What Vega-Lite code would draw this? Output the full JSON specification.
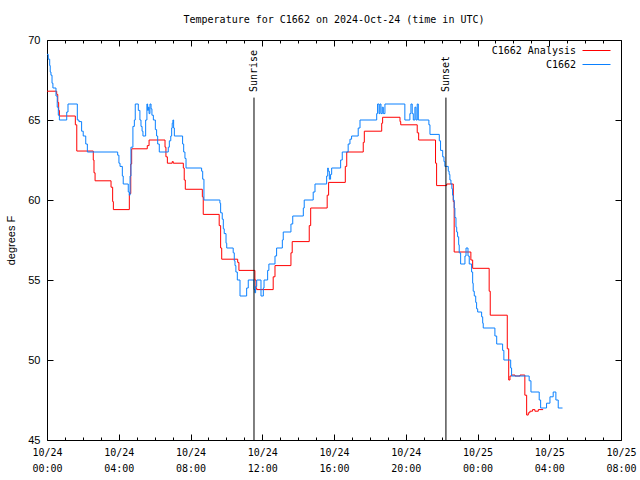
{
  "$schema": "https://vega.github.io/schema/vega-lite/v6.json",
  "width": 574,
  "height": 400,
  "autosize": "none",
  "padding": {"left": 47, "top": 40, "right": 19, "bottom": 40},
  "background": "white",
  "config": {"view": {"stroke": "black", "strokeWidth": 1}},
  "title": {"text": "Temperature for C1662 on 2024-Oct-24 (time in UTC)", "font": "DejaVu Sans Mono", "fontSize": 10, "fontWeight": "normal", "color": "black", "anchor": "middle", "offset": 9},
  "datasets": {
    "events": [
      {"event": "Sunrise", "hour": 11.54},
      {"event": "Sunset", "hour": 22.24}
    ],
    "temps": [
      {"series": "C1662 Analysis", "hour": 0, "temp": 66.8},
      {"series": "C1662 Analysis", "hour": 0.54, "temp": 66.6},
      {"series": "C1662 Analysis", "hour": 0.60, "temp": 66.1},
      {"series": "C1662 Analysis", "hour": 0.65, "temp": 65.6},
      {"series": "C1662 Analysis", "hour": 0.69, "temp": 65.25},
      {"series": "C1662 Analysis", "hour": 1.58, "temp": 64.7},
      {"series": "C1662 Analysis", "hour": 1.66, "temp": 63.06},
      {"series": "C1662 Analysis", "hour": 2.58, "temp": 62.5},
      {"series": "C1662 Analysis", "hour": 2.62, "temp": 61.7},
      {"series": "C1662 Analysis", "hour": 2.68, "temp": 61.2},
      {"series": "C1662 Analysis", "hour": 3.57, "temp": 60.8},
      {"series": "C1662 Analysis", "hour": 3.66, "temp": 59.9},
      {"series": "C1662 Analysis", "hour": 3.70, "temp": 59.4},
      {"series": "C1662 Analysis", "hour": 4.59, "temp": 60.4},
      {"series": "C1662 Analysis", "hour": 4.67, "temp": 62.25},
      {"series": "C1662 Analysis", "hour": 4.72, "temp": 63.2},
      {"series": "C1662 Analysis", "hour": 5.59, "temp": 63.4},
      {"series": "C1662 Analysis", "hour": 5.69, "temp": 63.75},
      {"series": "C1662 Analysis", "hour": 6.58, "temp": 63.3},
      {"series": "C1662 Analysis", "hour": 6.63, "temp": 62.7},
      {"series": "C1662 Analysis", "hour": 6.71, "temp": 62.3},
      {"series": "C1662 Analysis", "hour": 6.98, "temp": 62.4},
      {"series": "C1662 Analysis", "hour": 7.04, "temp": 62.3},
      {"series": "C1662 Analysis", "hour": 7.60, "temp": 62.0},
      {"series": "C1662 Analysis", "hour": 7.65, "temp": 61.25},
      {"series": "C1662 Analysis", "hour": 7.71, "temp": 60.67},
      {"series": "C1662 Analysis", "hour": 8.66, "temp": 60.2},
      {"series": "C1662 Analysis", "hour": 8.71, "temp": 59.1},
      {"series": "C1662 Analysis", "hour": 9.60, "temp": 58.4},
      {"series": "C1662 Analysis", "hour": 9.68, "temp": 57.0},
      {"series": "C1662 Analysis", "hour": 9.74, "temp": 56.3},
      {"series": "C1662 Analysis", "hour": 10.63, "temp": 56.1},
      {"series": "C1662 Analysis", "hour": 10.70, "temp": 55.6},
      {"series": "C1662 Analysis", "hour": 11.59, "temp": 55.0},
      {"series": "C1662 Analysis", "hour": 11.65, "temp": 54.5},
      {"series": "C1662 Analysis", "hour": 11.69, "temp": 54.4},
      {"series": "C1662 Analysis", "hour": 12.61, "temp": 55.2},
      {"series": "C1662 Analysis", "hour": 12.71, "temp": 55.9},
      {"series": "C1662 Analysis", "hour": 13.60, "temp": 56.7},
      {"series": "C1662 Analysis", "hour": 13.67, "temp": 57.4},
      {"series": "C1662 Analysis", "hour": 14.62, "temp": 58.4},
      {"series": "C1662 Analysis", "hour": 14.70, "temp": 59.5},
      {"series": "C1662 Analysis", "hour": 15.62, "temp": 60.3},
      {"series": "C1662 Analysis", "hour": 15.70, "temp": 61.1},
      {"series": "C1662 Analysis", "hour": 16.63, "temp": 62.1},
      {"series": "C1662 Analysis", "hour": 16.71, "temp": 63.0},
      {"series": "C1662 Analysis", "hour": 17.63, "temp": 63.6},
      {"series": "C1662 Analysis", "hour": 17.69, "temp": 64.3},
      {"series": "C1662 Analysis", "hour": 18.66, "temp": 64.8},
      {"series": "C1662 Analysis", "hour": 18.71, "temp": 65.17},
      {"series": "C1662 Analysis", "hour": 19.68, "temp": 64.9},
      {"series": "C1662 Analysis", "hour": 19.72, "temp": 64.7},
      {"series": "C1662 Analysis", "hour": 20.64, "temp": 64.2},
      {"series": "C1662 Analysis", "hour": 20.72, "temp": 63.75},
      {"series": "C1662 Analysis", "hour": 21.66, "temp": 62.3},
      {"series": "C1662 Analysis", "hour": 21.72, "temp": 60.9},
      {"series": "C1662 Analysis", "hour": 22.28, "temp": 61.0},
      {"series": "C1662 Analysis", "hour": 22.65, "temp": 59.9},
      {"series": "C1662 Analysis", "hour": 22.70, "temp": 56.75},
      {"series": "C1662 Analysis", "hour": 23.63, "temp": 56.25},
      {"series": "C1662 Analysis", "hour": 23.73, "temp": 55.73},
      {"series": "C1662 Analysis", "hour": 24.65, "temp": 54.3},
      {"series": "C1662 Analysis", "hour": 24.71, "temp": 52.8},
      {"series": "C1662 Analysis", "hour": 25.66, "temp": 50.7},
      {"series": "C1662 Analysis", "hour": 25.74, "temp": 48.75},
      {"series": "C1662 Analysis", "hour": 25.81, "temp": 49.0},
      {"series": "C1662 Analysis", "hour": 25.90, "temp": 49.06},
      {"series": "C1662 Analysis", "hour": 26.09, "temp": 49.0},
      {"series": "C1662 Analysis", "hour": 26.37, "temp": 49.06},
      {"series": "C1662 Analysis", "hour": 26.64, "temp": 47.8},
      {"series": "C1662 Analysis", "hour": 26.74, "temp": 46.56},
      {"series": "C1662 Analysis", "hour": 26.83, "temp": 46.7},
      {"series": "C1662 Analysis", "hour": 26.92, "temp": 46.8},
      {"series": "C1662 Analysis", "hour": 27.07, "temp": 46.9},
      {"series": "C1662 Analysis", "hour": 27.20, "temp": 46.8},
      {"series": "C1662 Analysis", "hour": 27.39, "temp": 46.9},
      {"series": "C1662 Analysis", "hour": 27.66, "temp": 46.9},
      {"series": "C1662", "hour": 0, "temp": 69.1},
      {"series": "C1662", "hour": 0.07, "temp": 68.8},
      {"series": "C1662", "hour": 0.15, "temp": 68.4},
      {"series": "C1662", "hour": 0.18, "temp": 68.0},
      {"series": "C1662", "hour": 0.22, "temp": 67.8},
      {"series": "C1662", "hour": 0.28, "temp": 67.3},
      {"series": "C1662", "hour": 0.33, "temp": 67.0},
      {"series": "C1662", "hour": 0.50, "temp": 66.5},
      {"series": "C1662", "hour": 0.57, "temp": 65.8},
      {"series": "C1662", "hour": 0.63, "temp": 65.3},
      {"series": "C1662", "hour": 0.69, "temp": 65.0},
      {"series": "C1662", "hour": 1.10, "temp": 65.5},
      {"series": "C1662", "hour": 1.17, "temp": 66.0},
      {"series": "C1662", "hour": 1.69, "temp": 65.0},
      {"series": "C1662", "hour": 1.78, "temp": 64.9},
      {"series": "C1662", "hour": 1.93, "temp": 64.3},
      {"series": "C1662", "hour": 2.02, "temp": 64.0},
      {"series": "C1662", "hour": 2.16, "temp": 63.5},
      {"series": "C1662", "hour": 2.25, "temp": 63.0},
      {"series": "C1662", "hour": 3.94, "temp": 62.8},
      {"series": "C1662", "hour": 4.01, "temp": 62.3},
      {"series": "C1662", "hour": 4.07, "temp": 62.1},
      {"series": "C1662", "hour": 4.20, "temp": 61.5},
      {"series": "C1662", "hour": 4.25, "temp": 61.0},
      {"series": "C1662", "hour": 4.53, "temp": 60.5},
      {"series": "C1662", "hour": 4.59, "temp": 60.3},
      {"series": "C1662", "hour": 4.63, "temp": 61.5},
      {"series": "C1662", "hour": 4.68, "temp": 63.3},
      {"series": "C1662", "hour": 4.79, "temp": 64.6},
      {"series": "C1662", "hour": 4.87, "temp": 65.0},
      {"series": "C1662", "hour": 4.92, "temp": 66.0},
      {"series": "C1662", "hour": 5.09, "temp": 65.6},
      {"series": "C1662", "hour": 5.18, "temp": 65.0},
      {"series": "C1662", "hour": 5.24, "temp": 64.6},
      {"series": "C1662", "hour": 5.30, "temp": 64.3},
      {"series": "C1662", "hour": 5.35, "temp": 64.0},
      {"series": "C1662", "hour": 5.50, "temp": 65.0},
      {"series": "C1662", "hour": 5.57, "temp": 66.0},
      {"series": "C1662", "hour": 5.61, "temp": 65.6},
      {"series": "C1662", "hour": 5.65, "temp": 65.8},
      {"series": "C1662", "hour": 5.69, "temp": 65.4},
      {"series": "C1662", "hour": 5.74, "temp": 66.0},
      {"series": "C1662", "hour": 5.80, "temp": 65.7},
      {"series": "C1662", "hour": 5.85, "temp": 65.3},
      {"series": "C1662", "hour": 5.93, "temp": 65.0},
      {"series": "C1662", "hour": 6.04, "temp": 64.4},
      {"series": "C1662", "hour": 6.11, "temp": 64.0},
      {"series": "C1662", "hour": 6.17, "temp": 63.5},
      {"series": "C1662", "hour": 6.26, "temp": 63.0},
      {"series": "C1662", "hour": 6.76, "temp": 63.3},
      {"series": "C1662", "hour": 6.82, "temp": 63.7},
      {"series": "C1662", "hour": 6.90, "temp": 64.0},
      {"series": "C1662", "hour": 6.95, "temp": 64.5},
      {"series": "C1662", "hour": 6.98, "temp": 64.8},
      {"series": "C1662", "hour": 7.02, "temp": 65.0},
      {"series": "C1662", "hour": 7.06, "temp": 64.5},
      {"series": "C1662", "hour": 7.10, "temp": 64.0},
      {"series": "C1662", "hour": 7.56, "temp": 63.5},
      {"series": "C1662", "hour": 7.62, "temp": 63.0},
      {"series": "C1662", "hour": 7.69, "temp": 62.6},
      {"series": "C1662", "hour": 7.75, "temp": 62.0},
      {"series": "C1662", "hour": 8.62, "temp": 61.8},
      {"series": "C1662", "hour": 8.68, "temp": 61.3},
      {"series": "C1662", "hour": 8.75, "temp": 60.0},
      {"series": "C1662", "hour": 9.64, "temp": 59.8},
      {"series": "C1662", "hour": 9.68, "temp": 59.2},
      {"series": "C1662", "hour": 9.77, "temp": 58.8},
      {"series": "C1662", "hour": 9.83, "temp": 58.2},
      {"series": "C1662", "hour": 9.88, "temp": 57.9},
      {"series": "C1662", "hour": 9.98, "temp": 57.3},
      {"series": "C1662", "hour": 10.02, "temp": 57.0},
      {"series": "C1662", "hour": 10.38, "temp": 56.7},
      {"series": "C1662", "hour": 10.44, "temp": 56.2},
      {"series": "C1662", "hour": 10.48, "temp": 55.9},
      {"series": "C1662", "hour": 10.53, "temp": 55.5},
      {"series": "C1662", "hour": 10.61, "temp": 55.0},
      {"series": "C1662", "hour": 10.76, "temp": 54.0},
      {"series": "C1662", "hour": 11.13, "temp": 54.5},
      {"series": "C1662", "hour": 11.22, "temp": 55.0},
      {"series": "C1662", "hour": 11.54, "temp": 54.4},
      {"series": "C1662", "hour": 11.59, "temp": 54.2},
      {"series": "C1662", "hour": 11.63, "temp": 54.6},
      {"series": "C1662", "hour": 11.69, "temp": 55.0},
      {"series": "C1662", "hour": 11.93, "temp": 54.0},
      {"series": "C1662", "hour": 12.06, "temp": 54.5},
      {"series": "C1662", "hour": 12.10, "temp": 55.0},
      {"series": "C1662", "hour": 12.30, "temp": 55.6},
      {"series": "C1662", "hour": 12.37, "temp": 56.0},
      {"series": "C1662", "hour": 12.71, "temp": 56.5},
      {"series": "C1662", "hour": 12.80, "temp": 57.0},
      {"series": "C1662", "hour": 13.12, "temp": 57.5},
      {"series": "C1662", "hour": 13.17, "temp": 58.0},
      {"series": "C1662", "hour": 13.60, "temp": 58.5},
      {"series": "C1662", "hour": 13.70, "temp": 59.0},
      {"series": "C1662", "hour": 14.29, "temp": 59.5},
      {"series": "C1662", "hour": 14.34, "temp": 60.0},
      {"series": "C1662", "hour": 14.84, "temp": 60.5},
      {"series": "C1662", "hour": 14.94, "temp": 61.0},
      {"series": "C1662", "hour": 15.59, "temp": 61.5},
      {"series": "C1662", "hour": 15.65, "temp": 62.0},
      {"series": "C1662", "hour": 15.68, "temp": 61.8},
      {"series": "C1662", "hour": 15.74, "temp": 61.3},
      {"series": "C1662", "hour": 15.81, "temp": 61.6},
      {"series": "C1662", "hour": 15.87, "temp": 62.0},
      {"series": "C1662", "hour": 16.37, "temp": 62.5},
      {"series": "C1662", "hour": 16.46, "temp": 63.0},
      {"series": "C1662", "hour": 16.79, "temp": 63.5},
      {"series": "C1662", "hour": 16.89, "temp": 63.8},
      {"series": "C1662", "hour": 16.98, "temp": 64.0},
      {"series": "C1662", "hour": 17.35, "temp": 64.5},
      {"series": "C1662", "hour": 17.45, "temp": 65.0},
      {"series": "C1662", "hour": 18.38, "temp": 65.4},
      {"series": "C1662", "hour": 18.43, "temp": 66.0},
      {"series": "C1662", "hour": 18.51, "temp": 65.4},
      {"series": "C1662", "hour": 18.56, "temp": 66.0},
      {"series": "C1662", "hour": 18.62, "temp": 65.4},
      {"series": "C1662", "hour": 18.69, "temp": 65.8},
      {"series": "C1662", "hour": 18.75, "temp": 65.4},
      {"series": "C1662", "hour": 18.84, "temp": 66.0},
      {"series": "C1662", "hour": 19.95, "temp": 65.0},
      {"series": "C1662", "hour": 20.23, "temp": 65.4},
      {"series": "C1662", "hour": 20.29, "temp": 66.0},
      {"series": "C1662", "hour": 20.36, "temp": 65.4},
      {"series": "C1662", "hour": 20.42, "temp": 65.0},
      {"series": "C1662", "hour": 20.51, "temp": 65.8},
      {"series": "C1662", "hour": 20.57, "temp": 65.0},
      {"series": "C1662", "hour": 20.64, "temp": 66.0},
      {"series": "C1662", "hour": 20.70, "temp": 65.0},
      {"series": "C1662", "hour": 21.29, "temp": 64.7},
      {"series": "C1662", "hour": 21.35, "temp": 64.1},
      {"series": "C1662", "hour": 21.87, "temp": 63.7},
      {"series": "C1662", "hour": 21.94, "temp": 63.1},
      {"series": "C1662", "hour": 22.06, "temp": 62.7},
      {"series": "C1662", "hour": 22.13, "temp": 62.4},
      {"series": "C1662", "hour": 22.18, "temp": 62.1},
      {"series": "C1662", "hour": 22.37, "temp": 61.8},
      {"series": "C1662", "hour": 22.42, "temp": 61.6},
      {"series": "C1662", "hour": 22.46, "temp": 61.25},
      {"series": "C1662", "hour": 22.52, "temp": 61.0},
      {"series": "C1662", "hour": 22.57, "temp": 60.7},
      {"series": "C1662", "hour": 22.61, "temp": 60.3},
      {"series": "C1662", "hour": 22.65, "temp": 60.0},
      {"series": "C1662", "hour": 22.70, "temp": 59.5},
      {"series": "C1662", "hour": 22.74, "temp": 58.9},
      {"series": "C1662", "hour": 22.80, "temp": 58.3},
      {"series": "C1662", "hour": 22.84, "temp": 58.0},
      {"series": "C1662", "hour": 22.89, "temp": 57.7},
      {"series": "C1662", "hour": 22.95, "temp": 57.2},
      {"series": "C1662", "hour": 22.98, "temp": 56.7},
      {"series": "C1662", "hour": 23.06, "temp": 56.0},
      {"series": "C1662", "hour": 23.30, "temp": 56.5},
      {"series": "C1662", "hour": 23.36, "temp": 57.0},
      {"series": "C1662", "hour": 23.47, "temp": 56.5},
      {"series": "C1662", "hour": 23.54, "temp": 56.0},
      {"series": "C1662", "hour": 23.67, "temp": 55.5},
      {"series": "C1662", "hour": 23.73, "temp": 54.8},
      {"series": "C1662", "hour": 23.76, "temp": 54.3},
      {"series": "C1662", "hour": 23.82, "temp": 54.0},
      {"series": "C1662", "hour": 23.90, "temp": 53.6},
      {"series": "C1662", "hour": 23.95, "temp": 53.2},
      {"series": "C1662", "hour": 24.01, "temp": 53.0},
      {"series": "C1662", "hour": 24.23, "temp": 52.7},
      {"series": "C1662", "hour": 24.29, "temp": 52.3},
      {"series": "C1662", "hour": 24.32, "temp": 52.0},
      {"series": "C1662", "hour": 24.97, "temp": 51.5},
      {"series": "C1662", "hour": 25.07, "temp": 51.0},
      {"series": "C1662", "hour": 25.40, "temp": 50.6},
      {"series": "C1662", "hour": 25.47, "temp": 50.0},
      {"series": "C1662", "hour": 25.85, "temp": 49.5},
      {"series": "C1662", "hour": 25.90, "temp": 49.0},
      {"series": "C1662", "hour": 26.88, "temp": 48.7},
      {"series": "C1662", "hour": 26.98, "temp": 48.0},
      {"series": "C1662", "hour": 27.44, "temp": 47.5},
      {"series": "C1662", "hour": 27.52, "temp": 47.0},
      {"series": "C1662", "hour": 27.85, "temp": 47.3},
      {"series": "C1662", "hour": 28.04, "temp": 47.7},
      {"series": "C1662", "hour": 28.22, "temp": 48.0},
      {"series": "C1662", "hour": 28.37, "temp": 47.5},
      {"series": "C1662", "hour": 28.50, "temp": 47.0},
      {"series": "C1662", "hour": 28.74, "temp": 47.0}
    ]
  },
  "layer": [
    {
      "data": {"name": "temps"},
      "mark": {"type": "line", "interpolate": "step-after", "strokeWidth": 1},
      "encoding": {
        "x": {
          "field": "hour", "type": "quantitative",
          "scale": {"domain": [0, 32], "nice": false, "zero": false},
          "axis": {
            "orient": "bottom", "title": null, "grid": false, "domain": false,
            "values": [0,1,2,3,4,5,6,7,8,9,10,11,12,13,14,15,16,17,18,19,20,21,22,23,24,25,26,27,28,29,30,31,32],
            "labelExpr": "datum.value % 4 == 0 ? [datum.value < 24 ? '10/24' : '10/25', (datum.value % 24 < 10 ? '0' : '') + (datum.value % 24) + ':00'] : ''",
            "tickSize": {"condition": {"test": "datum.value % 4 == 0", "value": -6}, "value": -3},
            "tickColor": "black",
            "labelPadding": 13,
            "labelAlign": "center",
            "labelFont": "DejaVu Sans Mono", "labelFontSize": 10, "labelColor": "black",
            "labelLineHeight": 16, "labelOverlap": false, "labelBound": false, "labelFlush": false
          }
        },
        "y": {
          "field": "temp", "type": "quantitative",
          "scale": {"domain": [45, 70], "nice": false, "zero": false},
          "axis": {
            "orient": "left", "grid": false, "domain": false,
            "values": [45, 50, 55, 60, 65, 70],
            "tickSize": -6, "tickColor": "black",
            "labelPadding": 13,
            "labelFont": "Liberation Sans", "labelFontSize": 11, "labelColor": "black",
            "title": "degrees F", "titleFont": "Liberation Sans", "titleFontSize": 11, "titleFontWeight": "normal", "titleColor": "black",
            "titleX": -36, "titleY": 200, "titleAngle": 270, "titleAlign": "center", "titleBaseline": "middle"
          }
        },
        "color": {
          "field": "series", "type": "nominal",
          "scale": {"domain": ["C1662 Analysis", "C1662"], "range": ["#ff0000", "#0a80ff"]},
          "legend": {
            "title": null, "orient": "none", "legendX": 544, "legendY": 5,
            "symbolType": "M-2.8,0H2.8", "symbolSize": 100, "symbolStrokeWidth": 1,
            "labelAlign": "right", "labelOffset": -26,
            "labelFont": "DejaVu Sans Mono", "labelFontSize": 10, "labelColor": "black",
            "rowPadding": 3, "padding": 0
          }
        }
      }
    },
    {
      "data": {"name": "events"},
      "mark": {"type": "rule", "color": "black", "strokeWidth": 1},
      "encoding": {
        "x": {
          "field": "hour", "type": "quantitative",
          "axis": {
            "orient": "top", "title": null, "grid": false, "domain": false, "labels": false,
            "values": [0,1,2,3,4,5,6,7,8,9,10,11,12,13,14,15,16,17,18,19,20,21,22,23,24,25,26,27,28,29,30,31,32],
            "tickSize": {"condition": {"test": "datum.value % 4 == 0", "value": -6}, "value": -3},
            "tickColor": "black"
          }
        },
        "y": {
          "datum": 45, "type": "quantitative",
          "axis": {
            "orient": "right", "title": null, "grid": false, "domain": false, "labels": false,
            "values": [45, 50, 55, 60, 65, 70], "tickSize": -6, "tickColor": "black"
          }
        },
        "y2": {"datum": 66.4}
      }
    },
    {
      "data": {"name": "events"},
      "mark": {"type": "text", "angle": 270, "align": "left", "baseline": "middle", "font": "DejaVu Sans Mono", "fontSize": 10, "color": "black"},
      "encoding": {
        "x": {"field": "hour", "type": "quantitative", "axis": null},
        "y": {"datum": 66.75, "type": "quantitative", "axis": null},
        "text": {"field": "event"}
      }
    }
  ],
  "resolve": {"axis": {"x": "independent", "y": "independent"}}
}
